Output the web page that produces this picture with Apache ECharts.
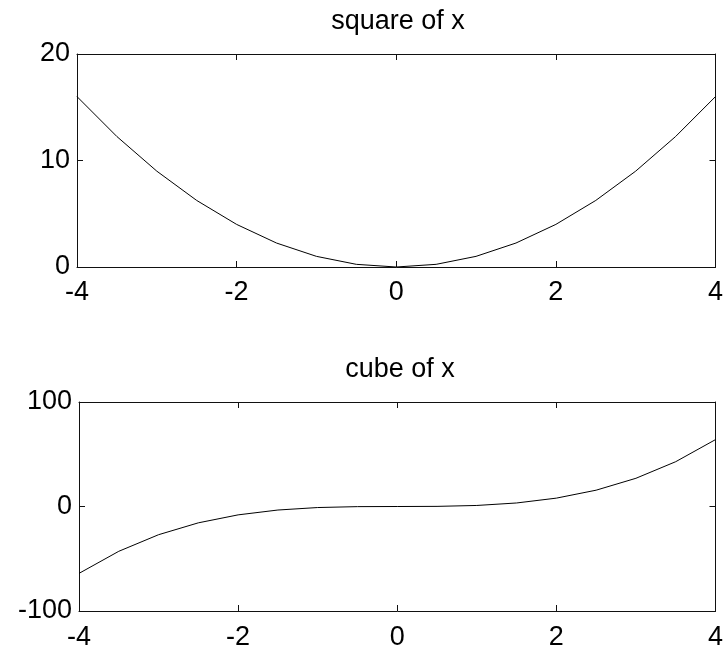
<!DOCTYPE html>
<html>
<head>
<meta charset="utf-8">
<script src="https://cdn.jsdelivr.net/npm/echarts@6/dist/echarts.min.js"></script>
<style>
  html, body { margin: 0; padding: 0; background: #fff; }
  #chart { width: 726px; height: 651px; }
</style>
</head>
<body>
<div id="chart"></div>
<script>
// x samples (step 0.5) and the values
var xValues = [-4, -3.5, -3, -2.5, -2, -1.5, -1, -0.5, 0, 0.5, 1, 1.5, 2, 2.5, 3, 3.5, 4];
var squareValues = [16, 12.25, 9, 6.25, 4, 2.25, 1, 0.25, 0, 0.25, 1, 2.25, 4, 6.25, 9, 12.25, 16];
var cubeValues = [-64, -42.875, -27, -15.625, -8, -3.375, -1, -0.125, 0, 0.125, 1, 3.375, 8, 15.625, 27, 42.875, 64];
var titles = ["square of x", "cube of x"];

var font = "Liberation Sans, Arial, sans-serif";
var ink = "#111";

function pairs(ys) {
  return xValues.map(function (x, i) { return [x, ys[i]]; });
}

// one mirrored axis pair per grid so the box has ticks on all four sides
function xAxes(grid, gap) {
  return [
    {
      gridIndex: grid, type: "value", min: -4, max: 4, interval: 2, position: "bottom",
      axisLine: { show: true, onZero: false, lineStyle: { color: ink, width: 1 } },
      axisTick: { show: true, inside: true, length: 6, lineStyle: { color: ink } },
      axisLabel: { show: true, color: "#000", fontSize: 27, fontFamily: font, margin: gap,
        showMinLabel: true, showMaxLabel: true, hideOverlap: false },
      splitLine: { show: false }
    },
    {
      gridIndex: grid, type: "value", min: -4, max: 4, interval: 2, position: "top",
      axisLine: { show: true, onZero: false, lineStyle: { color: ink, width: 1 } },
      axisTick: { show: true, inside: true, length: 6, lineStyle: { color: ink } },
      axisLabel: { show: false },
      splitLine: { show: false }
    }
  ];
}

function yAxes(grid, min, max, step) {
  return [
    {
      gridIndex: grid, type: "value", min: min, max: max, interval: step, position: "left",
      axisLine: { show: true, onZero: false, lineStyle: { color: ink, width: 1 } },
      axisTick: { show: true, inside: true, length: 6, lineStyle: { color: ink } },
      axisLabel: { show: true, color: "#000", fontSize: 27, fontFamily: font, margin: 7,
        showMinLabel: true, showMaxLabel: true, hideOverlap: false },
      splitLine: { show: false }
    },
    {
      gridIndex: grid, type: "value", min: min, max: max, interval: step, position: "right",
      axisLine: { show: true, onZero: false, lineStyle: { color: ink, width: 1 } },
      axisTick: { show: true, inside: true, length: 6, lineStyle: { color: ink } },
      axisLabel: { show: false },
      splitLine: { show: false }
    }
  ];
}

var chart = echarts.init(document.getElementById("chart"));
chart.setOption({
  animation: false,
  backgroundColor: "#fff",
  title: [
    { text: titles[0], left: 398, top: 8, textAlign: "center", padding: 0,
      textStyle: { fontSize: 27, fontWeight: "normal", color: "#000", fontFamily: font } },
    { text: titles[1], left: 400, top: 356, textAlign: "center", padding: 0,
      textStyle: { fontSize: 27, fontWeight: "normal", color: "#000", fontFamily: font } }
  ],
  grid: [
    { left: 77, top: 54, width: 642, height: 213 },
    { left: 79, top: 402, width: 642, height: 211 }
  ],
  xAxis: xAxes(0, 12).concat(xAxes(1, 13)),
  yAxis: yAxes(0, 0, 20, 10).concat(yAxes(1, -100, 100, 100)),
  series: [
    {
      type: "line", xAxisIndex: 0, yAxisIndex: 0, data: pairs(squareValues),
      showSymbol: false, lineStyle: { color: "#000", width: 1 }
    },
    {
      type: "line", xAxisIndex: 2, yAxisIndex: 2, data: pairs(cubeValues),
      showSymbol: false, lineStyle: { color: "#000", width: 1 }
    }
  ]
});
</script>
</body>
</html>
